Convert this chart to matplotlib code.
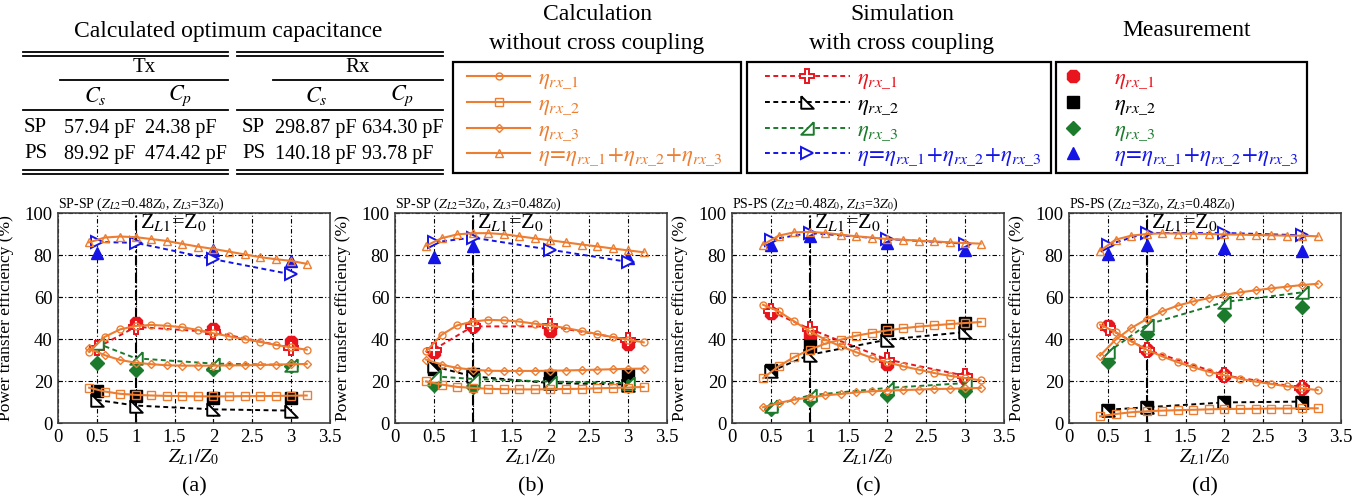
"""
Power transfer efficiency vs Z_L1/Z_0 for four coil configurations
"""
import numpy as np
import matplotlib
matplotlib.use('Agg')
import matplotlib.pyplot as plt
from matplotlib.patches import Rectangle

plt.rcParams['font.family'] = ['Liberation Serif', 'DejaVu Serif']
plt.rcParams['mathtext.fontset'] = 'stix'

W, H = 1368, 497
nan = np.nan

ORANGE = '#ED7D31'
RED = '#E8141E'
BLACK = '#000000'
GREEN = '#1B7A2B'
BLUE = '#1414E6'

# ---------------- data ----------------
x_calc = [0.4, 0.6, 0.8, 1.0, 1.2, 1.4, 1.6, 1.8, 2.0, 2.2, 2.4, 2.6, 2.8, 3.0, 3.2]
x_pts = [0.5, 1.0, 2.0, 3.0]

# (a) SP-SP, ZL2=0.48Z0, ZL3=3Z0
calc_eta_a = [86.0, 88.3, 88.8, 88.5, 87.6, 86.7, 85.3, 84.0, 82.9, 81.6, 80.3, 79.0, 78.0, 77.2, 75.8]
calc_rx1_a = [34.0, 41.0, 44.6, 46.2, 46.7, 46.3, 45.6, 44.3, 42.7, 41.3, 39.9, 38.6, 37.2, 36.0, 34.9]
calc_rx2_a = [16.8, 15.0, 13.9, 13.4, 13.1, 12.9, 12.8, 12.7, 12.7, 12.7, 12.8, 12.8, 12.9, 13.0, 13.1]
calc_rx3_a = [35.5, 32.3, 30.0, 28.7, 28.0, 27.5, 27.3, 27.3, 27.3, 27.4, 27.5, 27.6, 27.8, 28.0, 28.1]
sim_eta_a = [86.2, 85.8, 78.0, 70.8]
sim_rx1_a = [35.8, 45.8, 43.3, 35.8]
sim_rx2_a = [11.0, 8.3, 6.5, 5.9]
sim_rx3_a = [38.0, 30.8, 28.3, 27.6]
meas_eta_a = [81.0, nan, 82.5, 77.2]
meas_rx1_a = [nan, 47.8, 45.0, 38.4]
meas_rx2_a = [15.4, 12.7, 11.8, 11.8]
meas_rx3_a = [28.5, 25.3, 25.5, 27.0]

# (b) SP-SP, ZL2=3Z0, ZL3=0.48Z0
calc_eta_b = [84.4, 88.0, 89.8, 90.4, 90.4, 89.9, 88.9, 87.9, 87.0, 86.0, 85.0, 84.1, 83.1, 82.2, 81.3]
calc_rx1_b = [34.1, 42.0, 46.5, 48.3, 49.1, 48.9, 48.3, 47.3, 46.4, 45.2, 43.8, 42.4, 40.9, 39.7, 38.4]
calc_rx2_b = [19.8, 18.3, 17.2, 16.7, 16.3, 16.1, 16.0, 16.0, 16.1, 16.2, 16.3, 16.5, 16.7, 16.9, 17.2]
calc_rx3_b = [30.2, 27.8, 26.2, 25.4, 24.9, 24.8, 24.8, 24.8, 24.9, 25.0, 25.2, 25.4, 25.6, 25.8, 25.9]
sim_eta_b = [86.0, 88.3, 82.5, 76.7]
sim_rx1_b = [35.0, 46.0, 46.0, 39.7]
sim_rx2_b = [27.0, 22.2, 19.0, 18.3]
sim_rx3_b = [22.2, 21.0, 19.7, 19.0]
meas_eta_b = [79.0, 84.4, nan, 78.6]
meas_rx1_b = [34.0, 46.0, 43.7, 37.8]
meas_rx2_b = [25.9, 23.5, 22.2, 22.7]
meas_rx3_b = [18.3, 17.1, nan, 17.8]

# (c) PS-PS, ZL2=0.48Z0, ZL3=3Z0
calc_eta_c = [84.9, 89.2, 90.8, 91.0, 90.5, 89.7, 88.9, 88.3, 87.6, 87.3, 86.8, 86.5, 86.0, 85.7, 85.4]
calc_rx1_c = [56.3, 53.2, 48.4, 43.7, 39.7, 36.5, 33.7, 31.0, 28.9, 27.0, 25.4, 23.8, 22.5, 21.4, 20.3]
calc_rx2_c = [21.4, 27.0, 31.4, 34.9, 37.8, 39.7, 41.6, 42.9, 44.1, 45.1, 45.9, 46.5, 47.1, 47.6, 48.1]
calc_rx3_c = [7.5, 9.5, 11.1, 12.2, 13.2, 13.8, 14.6, 15.1, 15.4, 15.7, 15.9, 16.2, 16.3, 16.5, 16.7]
sim_eta_c = [87.3, 90.5, 87.6, 85.4]
sim_rx1_c = [53.2, 44.8, 30.2, 22.5]
sim_rx2_c = [24.6, 32.5, 39.7, 43.3]
sim_rx3_c = [7.9, 13.2, 16.7, 19.0]
meas_eta_c = [84.9, 88.9, 85.7, 82.5]
meas_rx1_c = [52.4, 42.0, 28.3, 21.4]
meas_rx2_c = [25.4, 36.5, 44.4, 47.6]
meas_rx3_c = [6.8, 11.1, 13.5, 15.1]

# (d) PS-PS, ZL2=3Z0, ZL3=0.48Z0
calc_eta_d = [82.0, 87.3, 89.2, 90.0, 90.3, 90.2, 90.1, 90.0, 89.8, 89.7, 89.5, 89.4, 89.2, 89.2, 88.9]
calc_rx1_d = [46.8, 43.3, 38.9, 34.9, 31.7, 28.9, 26.5, 24.4, 22.7, 21.1, 19.7, 18.6, 17.5, 16.5, 15.7]
calc_rx2_d = [3.2, 4.3, 5.1, 5.6, 5.9, 6.1, 6.3, 6.5, 6.7, 6.7, 6.8, 6.9, 6.9, 7.0, 7.0]
calc_rx3_d = [32.1, 39.7, 45.2, 49.5, 53.2, 55.9, 57.9, 59.5, 61.1, 62.2, 63.2, 64.1, 64.9, 65.7, 66.3]
sim_eta_d = [84.9, 90.5, 90.5, 89.4]
sim_rx1_d = [45.2, 34.9, 22.7, 16.7]
sim_rx2_d = [6.3, 7.5, 9.8, 10.2]
sim_rx3_d = [33.7, 46.8, 57.6, 62.2]
meas_eta_d = [80.6, 84.9, 83.3, 82.0]
meas_rx1_d = [46.0, 34.9, 22.7, 16.7]
meas_rx2_d = [6.0, 7.6, 9.8, 9.8]
meas_rx3_d = [29.0, 42.2, 51.6, 55.4]

panel_titles = [
    r'SP-SP ($Z_{L2}$=0.48$Z_0$, $Z_{L3}$=3$Z_0$)',
    r'SP-SP ($Z_{L2}$=3$Z_0$, $Z_{L3}$=0.48$Z_0$)',
    r'PS-PS ($Z_{L2}$=0.48$Z_0$, $Z_{L3}$=3$Z_0$)',
    r'PS-PS ($Z_{L2}$=3$Z_0$, $Z_{L3}$=0.48$Z_0$)',
]
panel_tags = ['(a)', '(b)', '(c)', '(d)']

calc_sets = [
    (calc_rx1_a, calc_rx2_a, calc_rx3_a, calc_eta_a),
    (calc_rx1_b, calc_rx2_b, calc_rx3_b, calc_eta_b),
    (calc_rx1_c, calc_rx2_c, calc_rx3_c, calc_eta_c),
    (calc_rx1_d, calc_rx2_d, calc_rx3_d, calc_eta_d),
]
sim_sets = [
    (sim_rx1_a, sim_rx2_a, sim_rx3_a, sim_eta_a),
    (sim_rx1_b, sim_rx2_b, sim_rx3_b, sim_eta_b),
    (sim_rx1_c, sim_rx2_c, sim_rx3_c, sim_eta_c),
    (sim_rx1_d, sim_rx2_d, sim_rx3_d, sim_eta_d),
]
meas_sets = [
    (meas_rx1_a, meas_rx2_a, meas_rx3_a, meas_eta_a),
    (meas_rx1_b, meas_rx2_b, meas_rx3_b, meas_eta_b),
    (meas_rx1_c, meas_rx2_c, meas_rx3_c, meas_eta_c),
    (meas_rx1_d, meas_rx2_d, meas_rx3_d, meas_eta_d),
]

labels = [r'$\eta_{rx\_1}$', r'$\eta_{rx\_2}$', r'$\eta_{rx\_3}$',
          r'$\eta\!=\!\eta_{rx\_1}\!+\!\eta_{rx\_2}\!+\!\eta_{rx\_3}$']

# right-angle triangle markers used by the simulation curves
tri_rx2 = [(-1, 1), (-1, -1), (1, -1), (-1, 1)]
tri_rx3 = [(1, 1), (1, -1), (-1, -1), (1, 1)]

calc_style = [dict(marker='o', ms=5), dict(marker='s', ms=5.5),
              dict(marker='D', ms=4), dict(marker='^', ms=5.5)]
sim_style = [dict(color=RED, marker='P', ms=10), dict(color=BLACK, marker=tri_rx2, ms=9),
             dict(color=GREEN, marker=tri_rx3, ms=9), dict(color=BLUE, marker='>', ms=9)]
meas_style = [dict(color=RED, marker='8', ms=9.5), dict(color=BLACK, marker='s', ms=9),
              dict(color=GREEN, marker='D', ms=7), dict(color=BLUE, marker='^', ms=9)]

DASH = (0, (2.5, 1.8))


def px(x, y):
    """pixel position -> figure fraction"""
    return x / W, 1 - y / H


fig = plt.figure(figsize=(W / 100, H / 100), dpi=100)

# ---------------- panels ----------------
axes_left = [58, 395, 732, 1069]
ax_w, ax_top, ax_bot = 272, 213, 423
calc_handles, sim_handles, meas_handles = [], [], []

for i, left in enumerate(axes_left):
    ax = fig.add_axes([left / W, 1 - ax_bot / H, ax_w / W, (ax_bot - ax_top) / H])
    ax.set_xlim(0, 3.5)
    ax.set_ylim(0, 100)
    ax.set_xticks(np.arange(0, 3.51, 0.5))
    ax.set_xticklabels(['0', '0.5', '1', '1.5', '2', '2.5', '3', '3.5'])
    ax.set_yticks(np.arange(0, 101, 20))
    ax.grid(True, color='k', ls=(0, (4, 2, 1, 2)), lw=0.8)
    ax.axvline(1.0, color='k', lw=1.5, ls=(0, (5, 1.2, 1, 1.2)), zorder=1.5)
    ax.tick_params(direction='in', length=3, labelsize=13.5, pad=4)
    for sp in ax.spines.values():
        sp.set_color('#404040')
        sp.set_linewidth(1.2)

    for j in range(4):
        h = ax.plot(x_pts, meas_sets[i][j], ls='none', zorder=3, **meas_style[j])[0]
        if i == 0:
            meas_handles.append(h)
    for j in range(4):
        st = sim_style[j]
        h = ax.plot(x_pts, sim_sets[i][j], ls=DASH, lw=1.4, color=st['color'], marker=st['marker'],
                    ms=st['ms'], mfc='white', mec=st['color'], mew=1.4, zorder=4)[0]
        if i == 0:
            sim_handles.append(h)
    for j in range(4):
        h = ax.plot(x_calc, calc_sets[i][j], ls='-', lw=1.5, color=ORANGE, mfc='none',
                    mec=ORANGE, mew=1.0, zorder=5, **calc_style[j])[0]
        if i == 0:
            calc_handles.append(h)

    ax.text(1.05, 95.5, r'Z$_{L1}$=Z$_0$', fontsize=16, va='center', ha='left', zorder=6)
    ax.set_title(panel_titles[i], loc='left', fontsize=10, pad=3)
    ax.set_ylabel('Power transfer efficiency (%)', fontsize=12.5)
    ax.yaxis.set_label_coords(-0.16, 0.5)
    ax.set_xlabel(r'$Z_{L1}/Z_0$', fontsize=14)
    ax.xaxis.set_label_coords(0.5, -0.115)
    ax.text(0.5, -0.305, panel_tags[i], transform=ax.transAxes, fontsize=16,
            ha='center', va='center')

# ---------------- header: table, legend boxes ----------------
ov = fig.add_axes([0, 0, 1, 1])
ov.set_xlim(0, W)
ov.set_ylim(H, 0)
ov.axis('off')

ov.text(228, 32, 'Calculated optimum capacitance', fontsize=17, ha='center', va='center')
for x0, x1 in [(23, 228), (237, 443)]:
    for y in (52, 55.5, 170, 173.5):
        ov.plot([x0, x1], [y, y], color='k', lw=1.3)
    ov.plot([x0, x1], [110, 110], color='k', lw=1.3)
ov.plot([60, 228], [80, 80], color='k', lw=1.3)
ov.plot([273, 443], [80, 80], color='k', lw=1.3)
ov.text(144, 68, 'Tx', fontsize=15, ha='center', va='center')
ov.text(358, 68, 'Rx', fontsize=15, ha='center', va='center')
ov.text(95, 96, r'$C_s$', fontsize=16, ha='center', va='center')
ov.text(180, 96, r'$C_p$', fontsize=16, ha='center', va='center')
ov.text(316, 96, r'$C_s$', fontsize=16, ha='center', va='center')
ov.text(402, 96, r'$C_p$', fontsize=16, ha='center', va='center')

rows = [('SP', '57.94 pF', '24.38 pF', '298.87 pF', '634.30 pF', 128),
        ('PS', '89.92 pF', '474.42 pF', '140.18 pF', '93.78 pF', 154)]
for name, t1, t2, r1, r2, y in rows:
    ov.text(24, y, name, fontsize=15, va='center', ha='left')
    ov.text(64, y, t1, fontsize=14.5, va='center', ha='left')
    ov.text(145, y, t2, fontsize=14.5, va='center', ha='left')
    ov.text(242, y, name, fontsize=15, va='center', ha='left')
    ov.text(275, y, r1, fontsize=14.5, va='center', ha='left')
    ov.text(362, y, r2, fontsize=14.5, va='center', ha='left')

ov.text(597, 15, 'Calculation', fontsize=17, ha='center', va='center')
ov.text(597, 43, 'without cross coupling', fontsize=17, ha='center', va='center')
ov.text(902, 15, 'Simulation', fontsize=17, ha='center', va='center')
ov.text(902, 43, 'with cross coupling', fontsize=17, ha='center', va='center')
ov.text(1187, 30, 'Measurement', fontsize=17, ha='center', va='center')

for x0, x1 in [(453, 741), (747, 1051), (1056, 1307)]:
    ov.add_patch(Rectangle((x0, 62), x1 - x0, 111, fill=False, ec='k', lw=1.6))

leg_kw = dict(loc='upper left', frameon=False, fontsize=16.5, borderpad=0,
              borderaxespad=0, labelspacing=0.12, labelcolor='linecolor')
fig.legend(calc_handles, labels, bbox_to_anchor=px(467, 68),
           handlelength=2.75, handletextpad=0.35, **leg_kw)
fig.legend(sim_handles, labels, bbox_to_anchor=px(765, 68),
           handlelength=3.7, handletextpad=0.3, **leg_kw)
fig.legend(meas_handles, labels, bbox_to_anchor=px(1058, 68),
           handlelength=1.27, handletextpad=1.18, **leg_kw)

fig.savefig('out.png', dpi=100)
